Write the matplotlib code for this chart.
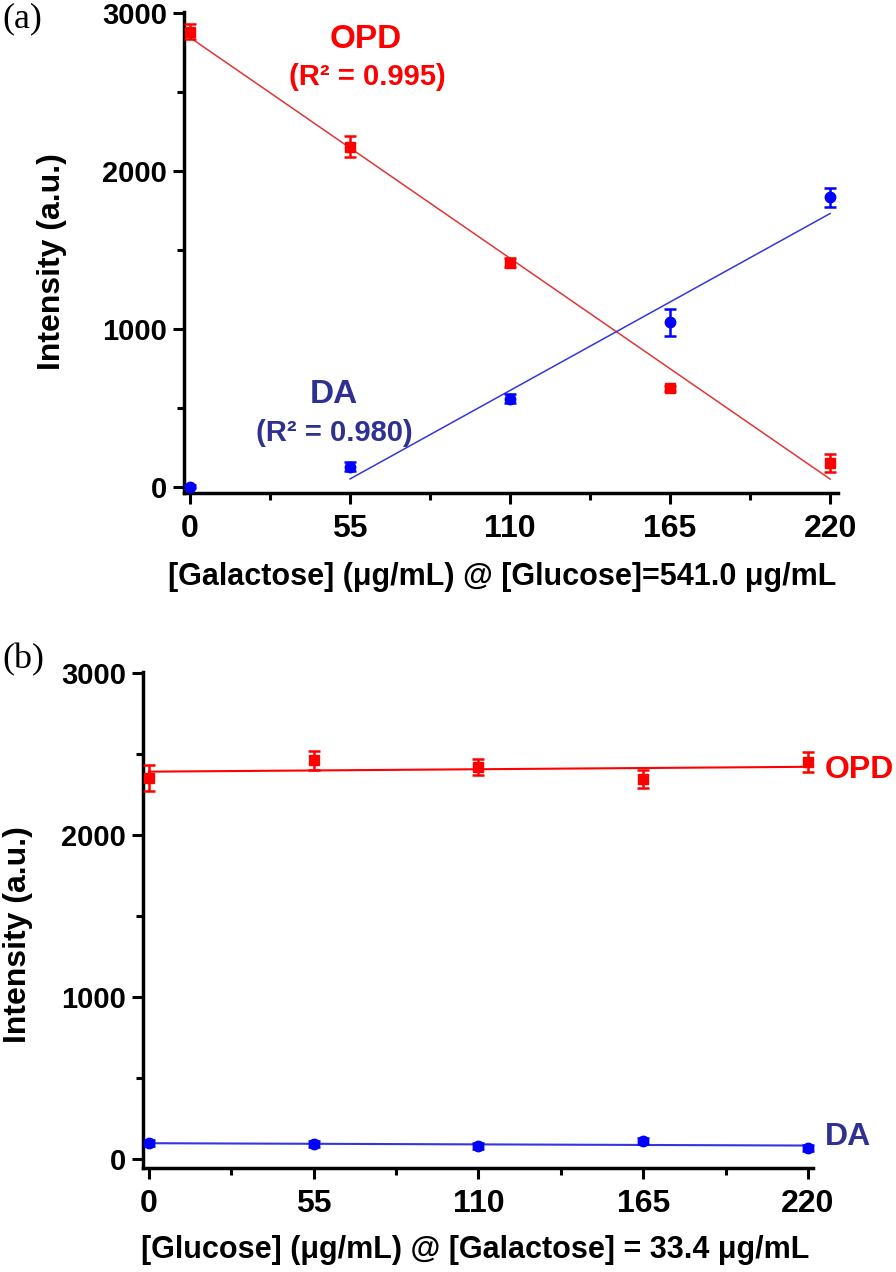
import numpy as np
import matplotlib
matplotlib.use('Agg')
import matplotlib.pyplot as plt
from matplotlib.ticker import AutoMinorLocator

plt.rcParams['font.family'] = ['Liberation Sans', 'DejaVu Sans']
plt.rcParams['font.weight'] = 'bold'

# concentrations (ug/mL)
conc = [0, 55, 110, 165, 220]
x_ticks = [0, 55, 110, 165, 220]
y_ticks = [0, 1000, 2000, 3000]

# panel (a): galactose series
opd_a = [2880, 2152, 1418, 623, 152]
opd_a_err = [50, 65, 30, 15, 57]
da_a = [0, 127, 557, 1040, 1832]
da_a_err = [10, 30, 30, 85, 60]

# panel (b): glucose series
opd_b = [2356, 2463, 2422, 2346, 2452]
opd_b_err = [80, 60, 50, 55, 60]
da_b = [97, 93, 82, 111, 70]
da_b_err = [18, 18, 18, 20, 18]

RED = '#FF0000'
BLUE = '#0000FF'
NAVY = '#2E3192'

fig = plt.figure(figsize=(8.96, 12.72), dpi=100)


def style_axes(ax, xlim, ylim):
    ax.set_xlim(*xlim)
    ax.set_ylim(*ylim)
    ax.set_xticks(x_ticks)
    ax.set_yticks(y_ticks)
    ax.xaxis.set_minor_locator(AutoMinorLocator(2))
    ax.yaxis.set_minor_locator(AutoMinorLocator(2))
    for side in ['top', 'right']:
        ax.spines[side].set_visible(False)
    for side in ['left', 'bottom']:
        ax.spines[side].set_linewidth(2.5)
    ax.tick_params(which='major', direction='out', length=8, width=2.2, pad=4)
    ax.tick_params(which='minor', direction='out', length=5, width=2.2)
    ax.tick_params(axis='x', which='major', pad=7)
    for lab in ax.get_xticklabels():
        lab.set_fontweight('bold')
        lab.set_fontsize(23)
    for lab in ax.get_yticklabels():
        lab.set_fontweight('bold')
        lab.set_fontsize(21)


def draw_points(ax, y, err, color, marker):
    ax.errorbar(conc, y, yerr=err, fmt=marker, color=color, ms=7.5,
                elinewidth=1.8, capsize=4.5, capthick=1.8, zorder=4,
                clip_on=False)


# ---- panel (a)
ax1 = fig.add_axes([0.2054, 0.6124, 0.730, 0.3782])
xs = np.array(conc, dtype=float)
k, b = np.polyfit(xs, opd_a, 1)
ax1.plot(xs[[0, -1]], k * xs[[0, -1]] + b, color='#E03535', lw=1.1, zorder=3)
k, b = np.polyfit(xs[1:], da_a[1:], 1)
ax1.plot(xs[[1, -1]], k * xs[[1, -1]] + b, color='#3535E0', lw=1.1, zorder=3)
draw_points(ax1, opd_a, opd_a_err, RED, 's')
draw_points(ax1, da_a, da_a_err, BLUE, 'o')
style_axes(ax1, (-2.06, 222.75), (-40, 3004))

ax1.text(60.5, 2827, 'OPD', color=RED, fontsize=24, ha='center', va='center')
ax1.text(60.8, 2593, '(R² = 0.995)', color=RED, fontsize=21, ha='center', va='center')
ax1.text(49.5, 586, 'DA', color=NAVY, fontsize=24, ha='center', va='center')
ax1.text(49.5, 340, '(R² = 0.980)', color=NAVY, fontsize=21, ha='center', va='center')

# ---- panel (b)
ax2 = fig.add_axes([0.1596, 0.0818, 0.7478, 0.3901])
k, b = np.polyfit(xs, opd_b, 1)
ax2.plot(xs[[0, -1]], k * xs[[0, -1]] + b, color=RED, lw=1.5, zorder=3)
k, b = np.polyfit(xs, da_b, 1)
ax2.plot(xs[[0, -1]], k * xs[[0, -1]] + b, color='#3535E0', lw=1.5, zorder=3)
draw_points(ax2, opd_b, opd_b_err, RED, 's')
draw_points(ax2, da_b, da_b_err, BLUE, 'o')
style_axes(ax2, (-2.0, 221.7), (-55, 3010))

ax2.text(225.7, 2401, 'OPD', color=RED, fontsize=23, ha='left', va='center',
         clip_on=False)
ax2.text(225.7, 136, 'DA', color=NAVY, fontsize=23, ha='left', va='center',
         clip_on=False)

# axis labels placed in figure pixels
W, H = 896, 1272
fig.text(502 / W, 1 - 577 / H, '[Galactose] (μg/mL) @ [Glucose]=541.0 μg/mL',
         fontsize=22, ha='center', va='center')
fig.text(475 / W, 1 - 1250 / H, '[Glucose] (μg/mL) @ [Galactose] = 33.4 μg/mL',
         fontsize=22, ha='center', va='center')
fig.text(52 / W, 1 - 262 / H, 'Intensity (a.u.)', fontsize=23, rotation=90,
         ha='center', va='center')
fig.text(18 / W, 1 - 935 / H, 'Intensity (a.u.)', fontsize=23, rotation=90,
         ha='center', va='center')

fig.text(22 / W, 1 - 19 / H, '(a)', fontsize=26, fontweight='normal',
         family='Liberation Serif', ha='center', va='center')
fig.text(23 / W, 1 - 660 / H, '(b)', fontsize=26, fontweight='normal',
         family='Liberation Serif', ha='center', va='center')

fig.savefig('out.png', dpi=100)
